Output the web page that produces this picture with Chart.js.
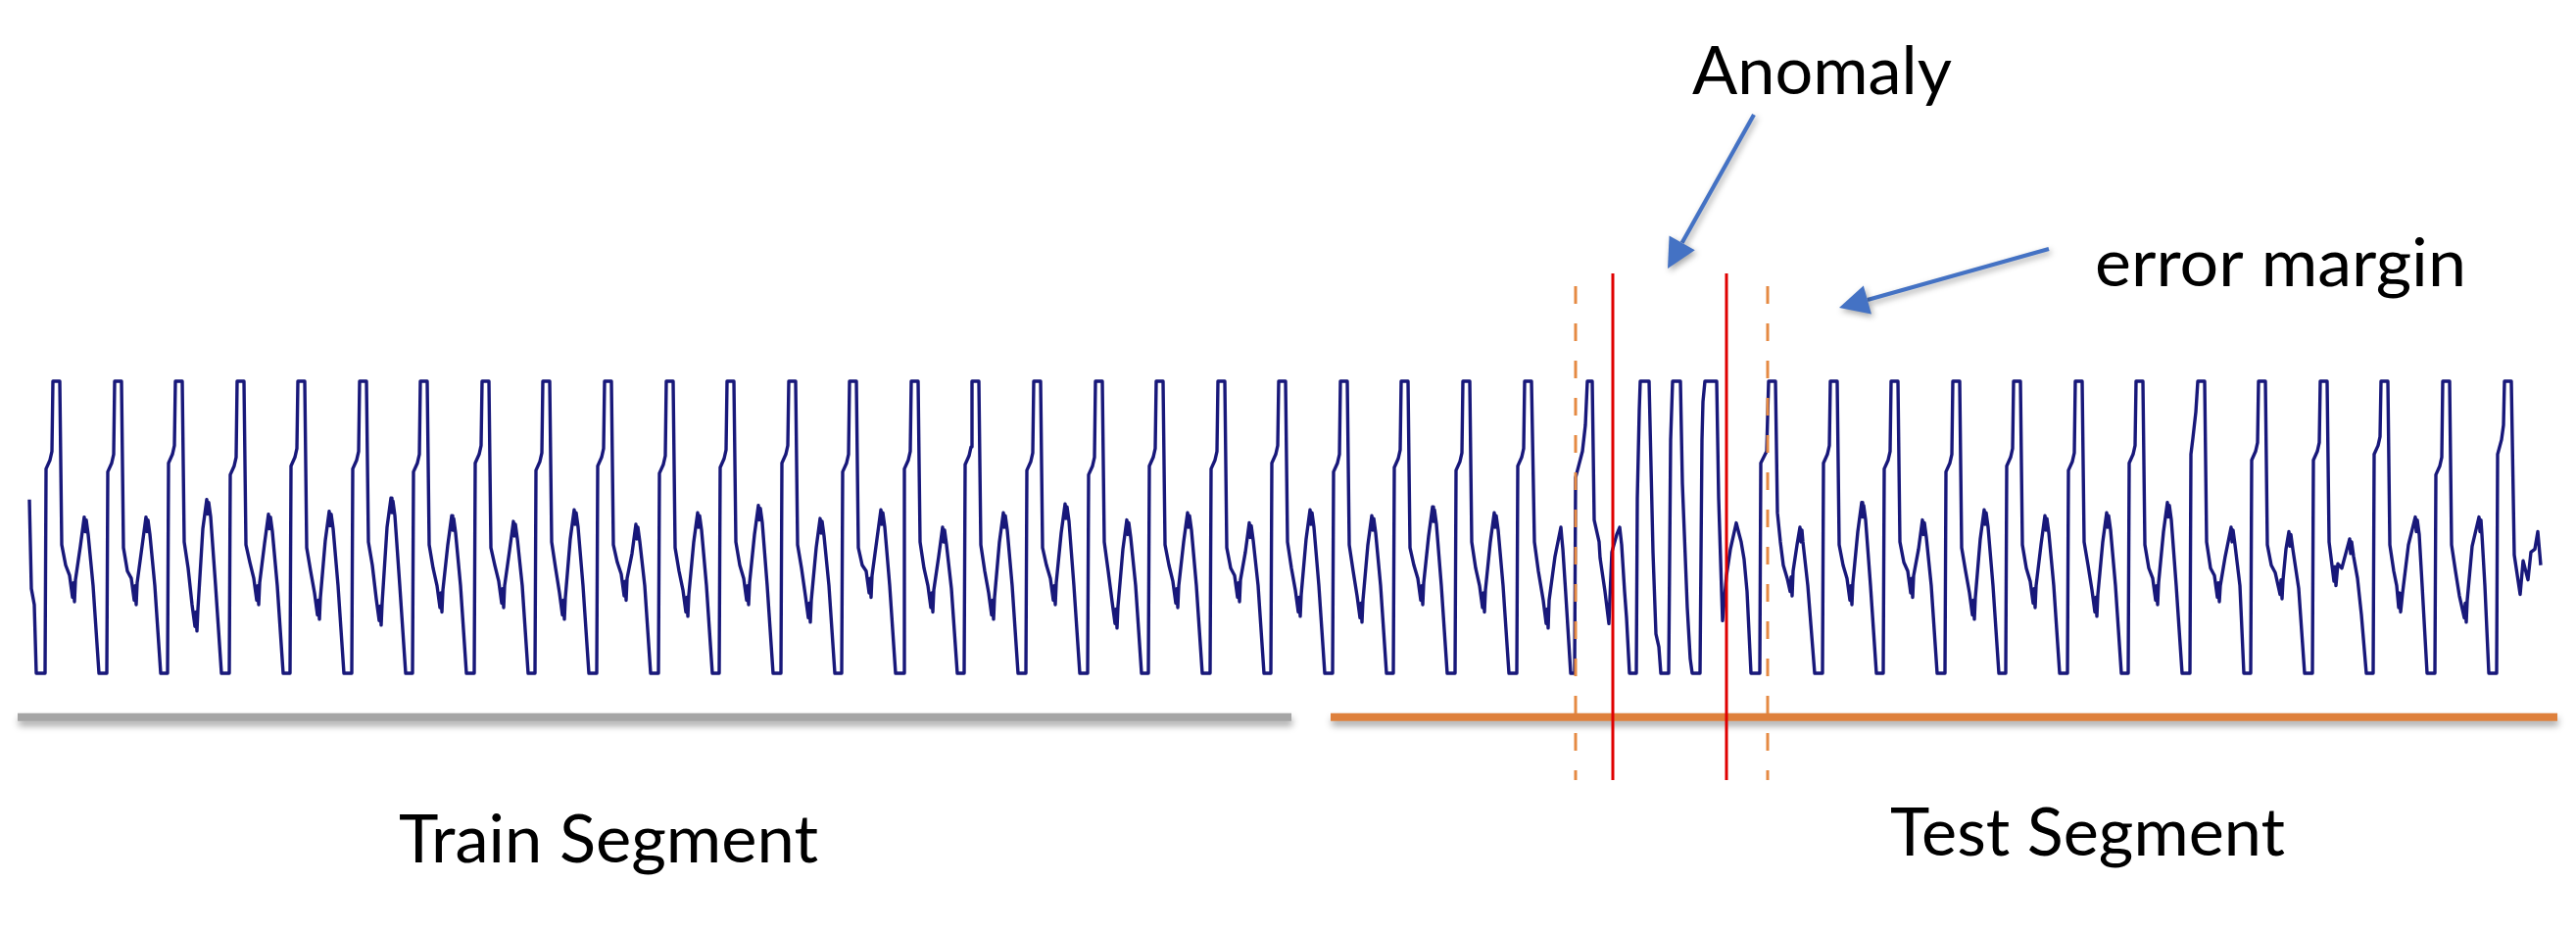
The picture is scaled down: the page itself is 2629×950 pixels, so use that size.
<!DOCTYPE html>
<html>
<head>
<meta charset="utf-8">
<title>Train / Test Segment</title>
<script src="https://cdn.jsdelivr.net/npm/chart.js@4.4.1/dist/chart.umd.min.js"></script>
<style>
  html, body { margin: 0; padding: 0; background: #ffffff; }
  #wrap { position: relative; width: 2629px; height: 950px; }
</style>
</head>
<body>
<div id="wrap"><canvas id="segChart"></canvas></div>
<script>
// Signal samples [t, value] - value is clipped at +1 / -1
const signal = [
  [30,.19],[32,-.42],[35,-.53],[37,-1],
  [46,-1],[47,.40],[51,.46],[53,.52],[54,1],[61,1],[63,-.12],[67,-.26],[71,-.33],[74,-.48],[75,-.38],[76,-.51],[77,-.36],[82,-.13],[86,.07],[87,-.03],[88,.05],[90,-.05],[95,-.4],[101,-1],
  [109,-1],[110,.38],[114,.44],[116,.50],[117,1],[124,1],[126,-.14],[130,-.3],[134,-.35],[137,-.50],[138,-.40],[139,-.53],[140,-.38],[145,-.13],[149,.07],[150,-.03],[151,.05],[153,-.05],[158,-.4],[164,-1],
  [171,-1],[172,.44],[176,.50],[178,.56],[179,1],[186,1],[188,-.1],[192,-.28],[196,-.53],[199,-.68],[200,-.58],[201,-.71],[202,-.56],[207,-.01],[211,.19],[212,.09],[213,.17],[215,.07],[220,-.4],[226,-1],
  [234,-1],[235,.36],[239,.42],[241,.48],[242,1],[249,1],[251,-.12],[255,-.24],[259,-.35],[262,-.50],[263,-.40],[264,-.53],[265,-.38],[270,-.11],[274,.09],[275,-.01],[276,.07],[278,-.03],[283,-.4],[289,-1],
  [296,-1],[297,.42],[301,.48],[303,.54],[304,1],[311,1],[313,-.14],[317,-.3],[321,-.45],[324,-.60],[325,-.50],[326,-.63],[327,-.48],[332,-.09],[336,.11],[337,.01],[338,.09],[340,-.01],[345,-.4],[351,-1],
  [359,-1],[360,.40],[364,.46],[366,.52],[367,1],[374,1],[376,-.1],[380,-.26],[384,-.49],[387,-.64],[388,-.54],[389,-.67],[390,-.52],[395,0],[399,.20],[400,.10],[401,.18],[403,.08],[408,-.4],[414,-1],
  [421,-1],[422,.38],[426,.44],[428,.50],[429,1],[436,1],[438,-.12],[442,-.28],[446,-.40],[449,-.55],[450,-.45],[451,-.58],[452,-.43],[457,-.12],[461,.08],[462,-.02],[463,.06],[465,-.04],[470,-.4],[476,-1],
  [484,-1],[485,.44],[489,.50],[491,.56],[492,1],[499,1],[501,-.14],[505,-.26],[509,-.37],[512,-.52],[513,-.42],[514,-.55],[515,-.40],[520,-.16],[524,.04],[525,-.06],[526,.02],[528,-.08],[533,-.4],[539,-1],
  [546,-1],[547,.39],[551,.45],[553,.51],[554,1],[561,1],[563,-.1],[567,-.28],[571,-.45],[574,-.60],[575,-.50],[576,-.63],[577,-.48],[582,-.08],[586,.12],[587,.02],[588,.10],[590,0],[595,-.4],[601,-1],
  [609,-1],[610,.42],[614,.48],[616,.54],[617,1],[624,1],[626,-.12],[630,-.24],[634,-.32],[637,-.47],[638,-.37],[639,-.50],[640,-.35],[645,-.18],[649,.02],[650,-.08],[651,0],[653,-.1],[658,-.4],[664,-1],
  [672,-1],[673,.37],[677,.43],[679,.49],[680,1],[687,1],[689,-.14],[693,-.3],[697,-.43],[700,-.58],[701,-.48],[702,-.61],[703,-.46],[708,-.1],[712,.10],[713,0],[714,.08],[716,-.02],[721,-.4],[727,-1],
  [734,-1],[735,.41],[739,.47],[741,.53],[742,1],[749,1],[751,-.1],[755,-.26],[759,-.35],[762,-.50],[763,-.40],[764,-.53],[765,-.38],[770,-.05],[774,.15],[775,.05],[776,.13],[778,.03],[783,-.4],[789,-1],
  [797,-1],[798,.44],[802,.50],[804,.56],[805,1],[812,1],[814,-.12],[818,-.28],[822,-.47],[825,-.62],[826,-.52],[827,-.65],[828,-.50],[833,-.14],[837,.06],[838,-.04],[839,.04],[841,-.06],[846,-.4],[852,-1],
  [859,-1],[860,.38],[864,.44],[866,.50],[867,1],[874,1],[876,-.14],[880,-.26],[884,-.30],[887,-.45],[888,-.35],[889,-.48],[890,-.33],[895,-.08],[899,.12],[900,.02],[901,.10],[903,0],[908,-.4],[914,-1],
  [922,-1],[923,.40],[927,.46],[929,.52],[930,1],[937,1],[939,-.1],[943,-.28],[947,-.40],[950,-.55],[951,-.45],[952,-.58],[953,-.43],[958,-.2],[962,0],[963,-.1],[964,-.02],[966,-.12],[971,-.42],[977,-1],
  [984,-1],[985,.43],[989,.49],[991,.55],[992,1],[999,1],[1001,-.12],[1005,-.3],[1009,-.45],[1012,-.60],[1013,-.50],[1014,-.63],[1015,-.48],[1020,-.1],[1024,.10],[1025,0],[1026,.08],[1028,-.02],[1033,-.4],[1039,-1],
  [1047,-1],[1048,.39],[1052,.45],[1054,.51],[1055,1],[1062,1],[1064,-.14],[1068,-.26],[1072,-.35],[1075,-.50],[1076,-.40],[1077,-.53],[1078,-.38],[1083,-.04],[1087,.16],[1088,.06],[1089,.14],[1091,.04],[1096,-.4],[1102,-1],
  [1110,-1],[1111,.36],[1115,.42],[1117,.48],[1118,1],[1125,1],[1127,-.1],[1131,-.3],[1135,-.51],[1138,-.66],[1139,-.56],[1140,-.69],[1141,-.54],[1146,-.15],[1150,.05],[1151,-.05],[1152,.03],[1154,-.07],[1159,-.4],[1165,-1],
  [1172,-1],[1173,.42],[1177,.48],[1179,.54],[1180,1],[1187,1],[1189,-.12],[1193,-.26],[1197,-.37],[1200,-.52],[1201,-.42],[1202,-.55],[1203,-.40],[1208,-.1],[1212,.10],[1213,0],[1214,.08],[1216,-.02],[1221,-.4],[1227,-1],
  [1235,-1],[1236,.40],[1240,.46],[1242,.52],[1243,1],[1250,1],[1252,-.14],[1256,-.28],[1260,-.33],[1263,-.48],[1264,-.38],[1265,-.51],[1266,-.36],[1271,-.17],[1275,.03],[1276,-.07],[1277,.01],[1279,-.09],[1284,-.4],[1290,-1],
  [1297,-1],[1298,.44],[1302,.50],[1304,.56],[1305,1],[1312,1],[1314,-.1],[1318,-.28],[1322,-.43],[1325,-.58],[1326,-.48],[1327,-.61],[1328,-.46],[1333,-.08],[1337,.12],[1338,.02],[1339,.10],[1341,0],[1346,-.4],[1352,-1],
  [1360,-1],[1361,.38],[1365,.44],[1367,.50],[1368,1],[1375,1],[1377,-.12],[1381,-.3],[1385,-.47],[1388,-.62],[1389,-.52],[1390,-.65],[1391,-.50],[1396,-.12],[1400,.08],[1401,-.02],[1402,.06],[1404,-.04],[1409,-.4],[1415,-1],
  [1422,-1],[1423,.41],[1427,.47],[1429,.53],[1430,1],[1437,1],[1439,-.14],[1443,-.26],[1447,-.35],[1450,-.50],[1451,-.40],[1452,-.53],[1453,-.38],[1458,-.06],[1462,.14],[1463,.04],[1464,.12],[1466,.02],[1471,-.4],[1477,-1],
  [1485,-1],[1486,.39],[1490,.45],[1492,.51],[1493,1],[1500,1],[1502,-.1],[1506,-.28],[1510,-.40],[1513,-.55],[1514,-.45],[1515,-.58],[1516,-.43],[1521,-.1],[1525,.10],[1526,0],[1527,.08],[1529,-.02],[1534,-.4],[1540,-1],
  [1548,-1],[1549,.42],[1553,.48],[1555,.54],[1556,1],[1563,1],[1566,-.1],[1570,-.3],[1575,-.5],[1578,-.66],[1579,-.56],[1580,-.69],[1581,-.5],[1587,-.2],[1593,0],[1594,-.08],[1595,-.15],[1598,-.46],[1603,-1],
  // anomaly: short, fast cycles
  [1607,-1],[1608,.34],[1615,.52],[1618,.7],[1620,1],[1625,1],[1627,.05],[1632,-.1],[1633,-.21],[1638,-.44],[1642,-.66],[1645,-.17],[1650,-.05],[1653,0],[1655,-.12],[1658,-.44],[1660,-.62],[1663,-1],
  [1670,-1],[1671,.2],[1673,.8],[1674,1],[1683,1],[1687,-.17],[1690,-.73],[1693,-.82],[1695,-1],
  [1703,-1],[1705,.6],[1707,1],[1715,1],[1717,.3],[1722,-.55],[1725,-.9],[1727,-1],
  [1735,-1],[1737,.6],[1738,.86],[1740,1],[1752,1],[1754,.2],[1757,-.44],[1758,-.64],[1762,-.33],[1766,-.15],[1772,.03],[1775,-.05],[1777,-.1],[1780,-.22],[1783,-.44],[1787,-1],
  [1796,-1],[1797,.44],[1803,.52],[1805,1],[1812,1],[1814,.1],[1817,-.1],[1820,-.26],[1824,-.35],[1827,-.44],[1828,-.34],[1829,-.47],[1830,-.3],[1834,-.12],[1837,0],[1838,-.1],[1839,-.02],[1840,-.1],[1845,-.4],[1852,-1],
  [1860,-1],[1861,.44],[1865,.50],[1867,.56],[1868,1],[1875,1],[1877,-.12],[1881,-.26],[1885,-.35],[1888,-.50],[1889,-.40],[1890,-.53],[1891,-.38],[1896,-.03],[1900,.17],[1901,.07],[1902,.15],[1904,.05],[1909,-.4],[1915,-1],
  [1922,-1],[1923,.40],[1927,.46],[1929,.52],[1930,1],[1937,1],[1939,-.1],[1943,-.24],[1947,-.30],[1950,-.45],[1951,-.35],[1952,-.48],[1953,-.33],[1958,-.15],[1962,.05],[1963,-.05],[1964,.03],[1966,-.07],[1971,-.4],[1977,-1],
  [1985,-1],[1986,.38],[1990,.44],[1992,.50],[1993,1],[2000,1],[2002,-.14],[2006,-.3],[2010,-.45],[2013,-.60],[2014,-.50],[2015,-.63],[2016,-.48],[2021,-.08],[2025,.12],[2026,.02],[2027,.10],[2029,0],[2034,-.4],[2040,-1],
  [2047,-1],[2048,.42],[2052,.48],[2054,.54],[2055,1],[2062,1],[2064,-.12],[2068,-.28],[2072,-.37],[2075,-.52],[2076,-.42],[2077,-.55],[2078,-.40],[2083,-.12],[2087,.08],[2088,-.02],[2089,.06],[2091,-.04],[2096,-.4],[2102,-1],
  [2110,-1],[2111,.39],[2115,.45],[2117,.51],[2118,1],[2125,1],[2127,-.1],[2131,-.26],[2135,-.43],[2138,-.58],[2139,-.48],[2140,-.61],[2141,-.46],[2146,-.1],[2150,.10],[2151,0],[2152,.08],[2154,-.02],[2159,-.4],[2165,-1],
  [2172,-1],[2173,.44],[2177,.50],[2179,.56],[2180,1],[2187,1],[2189,-.12],[2193,-.28],[2197,-.35],[2200,-.50],[2201,-.40],[2202,-.53],[2203,-.38],[2208,-.03],[2212,.17],[2213,.07],[2214,.15],[2216,.05],[2221,-.4],[2227,-1],
  [2235,-1],[2236,.50],[2238,.61],[2241,.79],[2243,1],[2250,1],[2252,-.1],[2256,-.28],[2260,-.33],[2263,-.48],[2264,-.38],[2265,-.51],[2266,-.40],[2271,-.2],[2277,0],[2278,-.1],[2279,-.02],[2281,-.12],[2286,-.4],[2290,-1],
  [2297,-1],[2298,.46],[2302,.52],[2304,.58],[2305,1],[2312,1],[2314,-.12],[2318,-.26],[2322,-.31],[2327,-.46],[2328,-.36],[2329,-.49],[2330,-.36],[2333,-.15],[2336,-.03],[2337,-.13],[2338,-.05],[2340,-.15],[2346,-.42],[2352,-1],
  [2360,-1],[2361,.46],[2365,.52],[2367,.58],[2368,1],[2375,1],[2377,-.1],[2382,-.37],[2383,-.27],[2384,-.4],[2386,-.25],[2390,-.28],[2394,-.18],[2398,-.08],[2399,-.18],[2400,-.1],[2402,-.2],[2406,-.35],[2410,-.6],[2415,-1],
  [2422,-1],[2423,.5],[2427,.56],[2429,.62],[2430,1],[2437,1],[2439,-.12],[2443,-.3],[2446,-.4],[2448,-.55],[2449,-.45],[2450,-.58],[2452,-.45],[2458,-.12],[2465,.07],[2466,-.03],[2467,.05],[2469,-.05],[2472,-.4],[2477,-1],
  [2485,-1],[2486,.36],[2490,.42],[2492,.48],[2493,1],[2500,1],[2502,-.12],[2506,-.3],[2510,-.47],[2515,-.62],[2516,-.52],[2517,-.65],[2518,-.5],[2523,-.13],[2530,.07],[2531,-.03],[2532,.05],[2533,-.05],[2536,-.4],[2540,-1],
  [2548,-1],[2549,.5],[2553,.6],[2555,.7],[2556,1],[2563,1],[2566,-.19],[2572,-.46],[2575,-.23],[2580,-.36],[2583,-.17],[2587,-.15],[2590,-.03],[2593,-.26],
];

// Train / test split (sample index)
const trainSegment = [18, 1318];
const testSegment = [1358, 2610];
const segmentLevel = -1.30;

// Anomaly window and its error margin (sample index)
const anomalyBounds = [1646, 1762];
const marginBounds = [1608, 1804];
const anomalyTop = 1.738;
const marginTop = 1.651;
const markerBottom = -1.732;

// Text and arrows, placed in data units
const annotations = {
  texts: [
    { text: "Anomaly", x: 1727, y: 2.966, width: 265 },
    { text: "error margin", x: 2138, y: 1.653, width: 379 },
    { text: "Train Segment", x: 407, y: -2.295, width: 428 },
    { text: "Test Segment", x: 1929, y: -2.248, width: 403 },
  ],
  arrows: [
    { from: [1790, 2.826], to: [1702, 1.772] },
    { from: [2091, 1.906], to: [1877, 1.503] },
  ],
};

const toPoints = (pairs) => pairs.map(([t, v]) => ({ x: t, y: v }));

// soft drop shadow under the segment bars
const shadowPlugin = {
  id: "segmentShadow",
  beforeDatasetDraw(chart, args) {
    if (!chart.data.datasets[args.index].shadow) return;
    const ctx = chart.ctx;
    ctx.save();
    ctx.shadowColor = "rgba(0, 0, 0, 0.35)";
    ctx.shadowBlur = 7;
    ctx.shadowOffsetX = 1;
    ctx.shadowOffsetY = 5;
  },
  afterDatasetDraw(chart, args) {
    if (chart.data.datasets[args.index].shadow) chart.ctx.restore();
  },
};

// arrows + labels
const annotationPlugin = {
  id: "annotations",
  afterDraw(chart) {
    const { ctx } = chart;
    const xs = chart.scales.x;
    const ys = chart.scales.y;

    ctx.save();
    ctx.strokeStyle = "#4472C4";
    ctx.fillStyle = "#4472C4";
    ctx.lineWidth = 4.2;
    ctx.shadowColor = "rgba(0, 0, 0, 0.35)";
    ctx.shadowBlur = 6;
    ctx.shadowOffsetX = 2;
    ctx.shadowOffsetY = 3;
    annotations.arrows.forEach((a) => {
      const x1 = xs.getPixelForValue(a.from[0]);
      const y1 = ys.getPixelForValue(a.from[1]);
      const x2 = xs.getPixelForValue(a.to[0]);
      const y2 = ys.getPixelForValue(a.to[1]);
      const ang = Math.atan2(y2 - y1, x2 - x1);
      const head = 30;
      const half = 15;
      const bx = x2 - head * Math.cos(ang);
      const by = y2 - head * Math.sin(ang);
      ctx.beginPath();
      ctx.moveTo(x1, y1);
      ctx.lineTo(bx, by);
      ctx.stroke();
      ctx.beginPath();
      ctx.moveTo(x2, y2);
      ctx.lineTo(bx + half * Math.sin(ang), by - half * Math.cos(ang));
      ctx.lineTo(bx - half * Math.sin(ang), by + half * Math.cos(ang));
      ctx.closePath();
      ctx.fill();
    });
    ctx.restore();

    ctx.save();
    ctx.fillStyle = "#000000";
    ctx.font = "67px Lato, 'Open Sans', sans-serif";
    ctx.textBaseline = "alphabetic";
    annotations.texts.forEach((t) => {
      const px = xs.getPixelForValue(t.x);
      const py = ys.getPixelForValue(t.y);
      const w = ctx.measureText(t.text).width;
      ctx.save();
      ctx.translate(px, py);
      ctx.scale(t.width / w, 1);
      ctx.fillText(t.text, 0, 0);
      ctx.restore();
    });
    ctx.restore();
  },
};

function buildChart() {
  const ctx = document.getElementById("segChart").getContext("2d");
  new Chart(ctx, {
    type: "line",
    data: {
      datasets: [
        ...anomalyBounds.map((t) => ({
          label: "Anomaly",
          data: [{ x: t, y: anomalyTop }, { x: t, y: markerBottom }],
          borderColor: "#E00000",
          borderWidth: 3,
        })),
        ...marginBounds.map((t) => ({
          label: "Error margin",
          data: [{ x: t, y: marginTop }, { x: t, y: markerBottom }],
          borderColor: "#E58A43",
          borderWidth: 3,
          borderDash: [18, 20],
        })),
        {
          label: "Signal",
          data: toPoints(signal),
          borderColor: "#18187a",
          borderWidth: 3.4,
          borderJoinStyle: "round",
        },
        {
          label: "Train Segment",
          data: trainSegment.map((t) => ({ x: t, y: segmentLevel })),
          borderColor: "#A5A5A5",
          borderWidth: 8,
          shadow: true,
        },
        {
          label: "Test Segment",
          data: testSegment.map((t) => ({ x: t, y: segmentLevel })),
          borderColor: "#DE803C",
          borderWidth: 8,
          shadow: true,
        },
      ],
    },
    options: {
      responsive: true,
      maintainAspectRatio: false,
      animation: false,
      layout: { padding: 0 },
      elements: {
        point: { radius: 0, hoverRadius: 0 },
        line: { tension: 0, fill: false },
      },
      scales: {
        x: { type: "linear", min: 0, max: 2629, display: false },
        y: { type: "linear", min: -2.765, max: 3.611, display: false },
      },
      plugins: {
        legend: { display: false },
        tooltip: { enabled: false },
      },
    },
    plugins: [shadowPlugin, annotationPlugin],
  });
}

document.fonts.load("67px Lato").then(buildChart, buildChart);
</script>
</body>
</html>
